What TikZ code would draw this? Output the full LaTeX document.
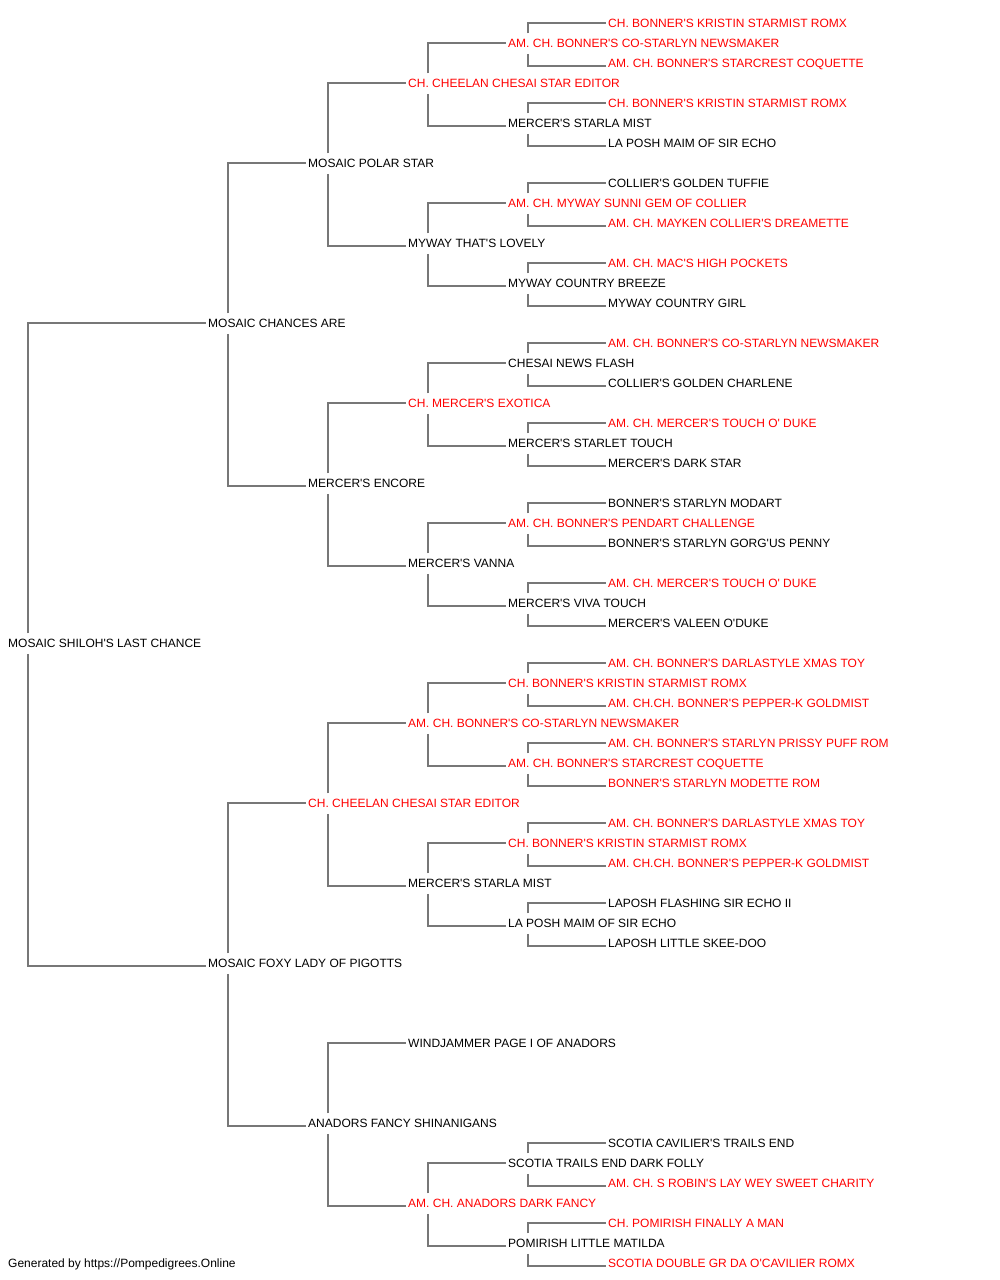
\documentclass[tikz,border=0pt]{standalone}
\usepackage{fontspec}
\setmainfont{Liberation Sans}[Ligatures=TeXOff]
\definecolor{pedred}{HTML}{FF0000}
\definecolor{pedline}{HTML}{777777}
\tikzset{
  dog/.style={anchor=west, inner xsep=2pt, inner ysep=0pt, minimum height=20pt,
    text height=8.6pt, text depth=0pt, font=\fontsize{12}{14}\selectfont, text=black, yshift=-0.6pt},
  ch/.style={dog, text=pedred},
  conn/.style={draw=pedline, line width=2pt}
}
\newcommand\sireline[2]{\draw[conn] ([xshift=22pt]#1.north west) |- ([yshift=1pt]#2.west);}
\newcommand\damline[2]{\draw[conn] ([xshift=22pt]#1.south west) |- ([yshift=-2pt]#2.west);}
\begin{document}
\begin{tikzpicture}[x=1pt,y=-1pt]
\useasboundingbox (0,0) rectangle (1000,1280);
% generation 0
\node[dog] (r) at (6,643) {MOSAIC SHILOH'S LAST CHANCE};
% generation 1
\node[dog] (r0) at (206,323) {MOSAIC CHANCES ARE};
\node[dog] (r1) at (206,963) {MOSAIC FOXY LADY OF PIGOTTS};
% generation 2
\node[dog] (r00) at (306,163) {MOSAIC POLAR STAR};
\node[dog] (r01) at (306,483) {MERCER'S ENCORE};
\node[ch]  (r10) at (306,803) {CH. CHEELAN CHESAI STAR EDITOR};
\node[dog] (r11) at (306,1123) {ANADORS FANCY SHINANIGANS};
% generation 3
\node[ch]  (r000) at (406,83) {CH. CHEELAN CHESAI STAR EDITOR};
\node[dog] (r001) at (406,243) {MYWAY THAT'S LOVELY};
\node[ch]  (r010) at (406,403) {CH. MERCER'S EXOTICA};
\node[dog] (r011) at (406,563) {MERCER'S VANNA};
\node[ch]  (r100) at (406,723) {AM. CH. BONNER'S CO-STARLYN NEWSMAKER};
\node[dog] (r101) at (406,883) {MERCER'S STARLA MIST};
\node[dog] (r110) at (406,1043) {WINDJAMMER PAGE I OF ANADORS};
\node[ch]  (r111) at (406,1203) {AM. CH. ANADORS DARK FANCY};
% generation 4
\node[ch]  (r0000) at (506,43) {AM. CH. BONNER'S CO-STARLYN NEWSMAKER};
\node[dog] (r0001) at (506,123) {MERCER'S STARLA MIST};
\node[ch]  (r0010) at (506,203) {AM. CH. MYWAY SUNNI GEM OF COLLIER};
\node[dog] (r0011) at (506,283) {MYWAY COUNTRY BREEZE};
\node[dog] (r0100) at (506,363) {CHESAI NEWS FLASH};
\node[dog] (r0101) at (506,443) {MERCER'S STARLET TOUCH};
\node[ch]  (r0110) at (506,523) {AM. CH. BONNER'S PENDART CHALLENGE};
\node[dog] (r0111) at (506,603) {MERCER'S VIVA TOUCH};
\node[ch]  (r1000) at (506,683) {CH. BONNER'S KRISTIN STARMIST ROMX};
\node[ch]  (r1001) at (506,763) {AM. CH. BONNER'S STARCREST COQUETTE};
\node[ch]  (r1010) at (506,843) {CH. BONNER'S KRISTIN STARMIST ROMX};
\node[dog] (r1011) at (506,923) {LA POSH MAIM OF SIR ECHO};
\node[dog] (r1110) at (506,1163) {SCOTIA TRAILS END DARK FOLLY};
\node[dog] (r1111) at (506,1243) {POMIRISH LITTLE MATILDA};
% generation 5
\node[ch]  (r00000) at (606,23) {CH. BONNER'S KRISTIN STARMIST ROMX};
\node[ch]  (r00001) at (606,63) {AM. CH. BONNER'S STARCREST COQUETTE};
\node[ch]  (r00010) at (606,103) {CH. BONNER'S KRISTIN STARMIST ROMX};
\node[dog] (r00011) at (606,143) {LA POSH MAIM OF SIR ECHO};
\node[dog] (r00100) at (606,183) {COLLIER'S GOLDEN TUFFIE};
\node[ch]  (r00101) at (606,223) {AM. CH. MAYKEN COLLIER'S DREAMETTE};
\node[ch]  (r00110) at (606,263) {AM. CH. MAC'S HIGH POCKETS};
\node[dog] (r00111) at (606,303) {MYWAY COUNTRY GIRL};
\node[ch]  (r01000) at (606,343) {AM. CH. BONNER'S CO-STARLYN NEWSMAKER};
\node[dog] (r01001) at (606,383) {COLLIER'S GOLDEN CHARLENE};
\node[ch]  (r01010) at (606,423) {AM. CH. MERCER'S TOUCH O' DUKE};
\node[dog] (r01011) at (606,463) {MERCER'S DARK STAR};
\node[dog] (r01100) at (606,503) {BONNER'S STARLYN MODART};
\node[dog] (r01101) at (606,543) {BONNER'S STARLYN GORG'US PENNY};
\node[ch]  (r01110) at (606,583) {AM. CH. MERCER'S TOUCH O' DUKE};
\node[dog] (r01111) at (606,623) {MERCER'S VALEEN O'DUKE};
\node[ch]  (r10000) at (606,663) {AM. CH. BONNER'S DARLASTYLE XMAS TOY};
\node[ch]  (r10001) at (606,703) {AM. CH.CH. BONNER'S PEPPER-K GOLDMIST};
\node[ch]  (r10010) at (606,743) {AM. CH. BONNER'S STARLYN PRISSY PUFF ROM};
\node[ch]  (r10011) at (606,783) {BONNER'S STARLYN MODETTE ROM};
\node[ch]  (r10100) at (606,823) {AM. CH. BONNER'S DARLASTYLE XMAS TOY};
\node[ch]  (r10101) at (606,863) {AM. CH.CH. BONNER'S PEPPER-K GOLDMIST};
\node[dog] (r10110) at (606,903) {LAPOSH FLASHING SIR ECHO II};
\node[dog] (r10111) at (606,943) {LAPOSH LITTLE SKEE-DOO};
\node[dog] (r11100) at (606,1143) {SCOTIA CAVILIER'S TRAILS END};
\node[ch]  (r11101) at (606,1183) {AM. CH. S ROBIN'S LAY WEY SWEET CHARITY};
\node[ch]  (r11110) at (606,1223) {CH. POMIRISH FINALLY A MAN};
\node[ch]  (r11111) at (606,1263) {SCOTIA DOUBLE GR DA O'CAVILIER ROMX};
% footer
\node[dog] (foot) at (6,1263) {Generated by https://Pompedigrees.Online};
% connectors
\sireline{r}{r0} \damline{r}{r1}
\sireline{r0}{r00} \damline{r0}{r01}
\sireline{r1}{r10} \damline{r1}{r11}
\sireline{r00}{r000} \damline{r00}{r001}
\sireline{r01}{r010} \damline{r01}{r011}
\sireline{r10}{r100} \damline{r10}{r101}
\sireline{r11}{r110} \damline{r11}{r111}
\sireline{r000}{r0000} \damline{r000}{r0001}
\sireline{r001}{r0010} \damline{r001}{r0011}
\sireline{r010}{r0100} \damline{r010}{r0101}
\sireline{r011}{r0110} \damline{r011}{r0111}
\sireline{r100}{r1000} \damline{r100}{r1001}
\sireline{r101}{r1010} \damline{r101}{r1011}
\sireline{r111}{r1110} \damline{r111}{r1111}
\sireline{r0000}{r00000} \damline{r0000}{r00001}
\sireline{r0001}{r00010} \damline{r0001}{r00011}
\sireline{r0010}{r00100} \damline{r0010}{r00101}
\sireline{r0011}{r00110} \damline{r0011}{r00111}
\sireline{r0100}{r01000} \damline{r0100}{r01001}
\sireline{r0101}{r01010} \damline{r0101}{r01011}
\sireline{r0110}{r01100} \damline{r0110}{r01101}
\sireline{r0111}{r01110} \damline{r0111}{r01111}
\sireline{r1000}{r10000} \damline{r1000}{r10001}
\sireline{r1001}{r10010} \damline{r1001}{r10011}
\sireline{r1010}{r10100} \damline{r1010}{r10101}
\sireline{r1011}{r10110} \damline{r1011}{r10111}
\sireline{r1110}{r11100} \damline{r1110}{r11101}
\sireline{r1111}{r11110} \damline{r1111}{r11111}
\end{tikzpicture}
\end{document}
